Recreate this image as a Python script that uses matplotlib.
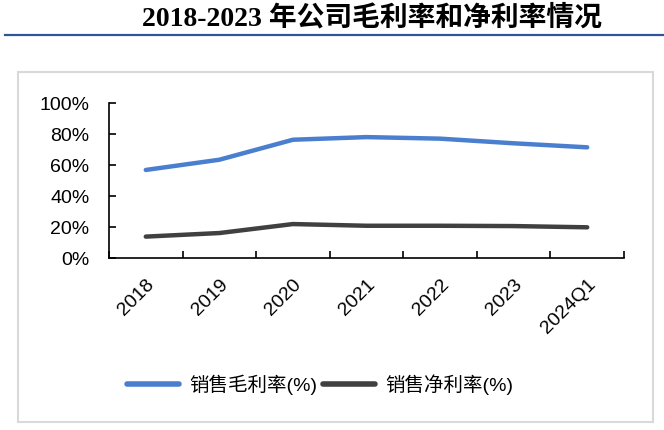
import matplotlib.pyplot as plt
from matplotlib.lines import Line2D
from matplotlib.patches import Rectangle
from matplotlib.ticker import FuncFormatter

# data
years = ['2018', '2019', '2020', '2021', '2022', '2023', '2024Q1']
gross_margin = [56.8, 63.4, 76.3, 78.0, 77.0, 74.0, 71.4]
net_margin = [13.8, 16.1, 21.9, 20.8, 20.8, 20.6, 19.8]

title = '2018-2023 年公司毛利率和净利率情况'
label_gross = '销售毛利率(%)'
label_net = '销售净利率(%)'

blue = '#4A7FCF'
grey = '#404040'
cjk = ['Liberation Sans', 'Noto Sans CJK SC']

fig = plt.figure(figsize=(6.64, 4.31), dpi=100)

# title and blue rule under it
fig.text(0.56, 0.957, title, ha='center', va='center', fontsize=20,
         fontweight='bold', family=['Liberation Serif', 'Noto Sans CJK SC'])
fig.add_artist(Line2D([5 / 664, 1], [1 - 36 / 431] * 2, color='#2F5597', lw=1.6))

# light grey frame round the chart
fig.add_artist(Rectangle((18 / 664, 1 - 423 / 431), (653 - 18) / 664, (423 - 73) / 431,
                         fill=False, edgecolor='#D9D9D9', lw=1.5))

ax = fig.add_axes([109 / 664, 1 - 259 / 431, (624 - 109) / 664, (259 - 104) / 431])
x = range(len(years))
ax.plot(x, gross_margin, color=blue, lw=3.2, solid_capstyle='round')
ax.plot(x, net_margin, color=grey, lw=3.2, solid_capstyle='round')

ax.set_xlim(-0.5, len(years) - 0.5)
ax.set_ylim(0, 100)
ax.set_yticks(range(0, 101, 20))
ax.yaxis.set_major_formatter(FuncFormatter(lambda v, p: f'{v:.0f}%'))
ax.set_xticks(x)
ax.set_xticklabels(years, rotation=45, ha='right', rotation_mode='anchor',
                   fontsize=14, family='Liberation Sans')
ax.set_xticks([i - 0.5 for i in range(len(years) + 1)], minor=True)
ax.tick_params(axis='x', which='major', length=0, pad=12)
ax.tick_params(axis='x', which='minor', direction='in', length=5, width=1.2)
ax.tick_params(axis='y', direction='in', length=5, width=1.2, labelsize=14, pad=14)
for t in ax.get_yticklabels():
    t.set_family('Liberation Sans')
for s in ['top', 'right']:
    ax.spines[s].set_visible(False)
for s in ['left', 'bottom']:
    ax.spines[s].set_linewidth(1.2)

handles = [Line2D([], [], color=blue, lw=4, solid_capstyle='round'),
           Line2D([], [], color=grey, lw=4, solid_capstyle='round')]
fig.legend(handles, [label_gross, label_net], loc='center', bbox_to_anchor=(0.482, 1 - 385 / 431),
           ncol=2, frameon=False, prop={'family': cjk, 'size': 14},
           handlelength=2.7, handletextpad=0.5, columnspacing=0.3)

fig.savefig('out.png', dpi=100)
